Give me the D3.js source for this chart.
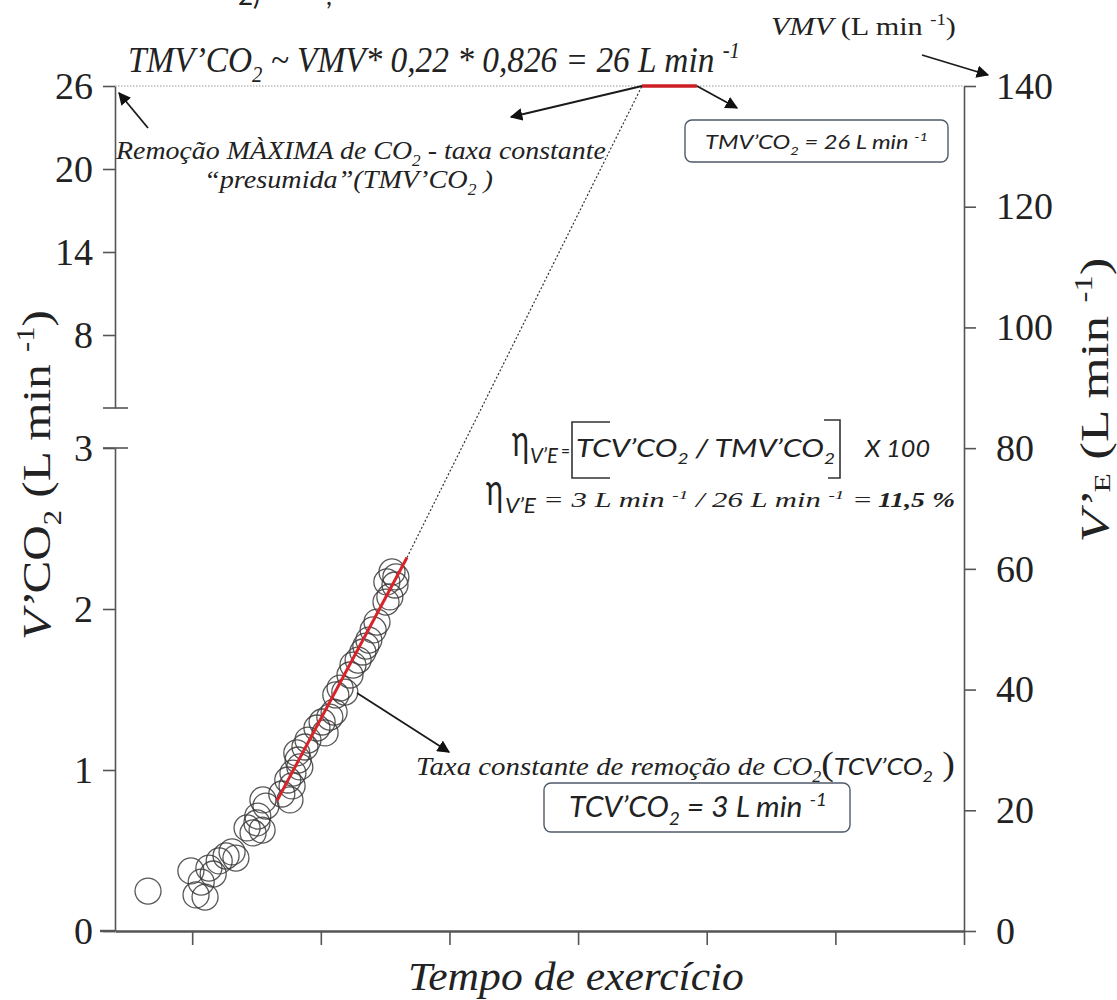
<!DOCTYPE html>
<html>
<head>
<meta charset="utf-8">
<script src="https://cdn.jsdelivr.net/npm/d3@7"></script>
<style>
  html, body { margin: 0; padding: 0; background: #fff; }
  svg { display: block; }
</style>
</head>
<body>
<svg id="chart" width="1117" height="1000"></svg>
<script>
// ---- data ----
// exercise time (arbitrary units along the time axis) and V'CO2 (L/min)
const timeVals = [0.97, 1.97, 2.09, 2.30, 2.21, 2.39, 2.49, 2.63, 2.79, 2.93,
                  3.02, 3.28, 3.42, 3.51, 3.63, 3.53, 3.72, 3.65, 4.09, 4.28,
                  4.33, 4.23, 4.35, 4.47, 4.51, 4.44, 4.63, 4.70, 4.91, 5.03,
                  5.10, 5.21, 5.31, 5.45, 5.56, 5.35, 5.68, 5.75, 5.87, 5.98,
                  6.05, 6.12, 6.22, 6.31, 6.52, 6.61, 6.54, 6.66, 6.75, 6.73];
const vco2Vals = [0.248, 0.373, 0.224, 0.211, 0.304, 0.391, 0.354, 0.435, 0.466, 0.491,
                  0.453, 0.640, 0.609, 0.671, 0.627, 0.714, 0.776, 0.814, 0.851, 0.814,
                  0.901, 0.938, 0.981, 1.062, 1.019, 1.106, 1.143, 1.186, 1.261, 1.298,
                  1.230, 1.329, 1.360, 1.509, 1.484, 1.466, 1.590, 1.652, 1.683, 1.733,
                  1.770, 1.807, 1.870, 1.919, 2.043, 2.075, 2.168, 2.230, 2.199, 2.149];
// linear fit over the constant-rate phase
const fitTime = [3.98, 7.01];
const fitVco2 = [0.81, 2.32];
// maximal (presumed) CO2 removal plateau
const tmvTime = [12.49, 13.77];
const tmvValue = 26;

const xTicks = [2, 5, 8, 11, 14, 17, 20];
const leftLowTicks = [0, 1, 2, 3];
const leftHighTicks = [8, 14, 20, 26];
const rightTicks = [0, 20, 40, 60, 80, 100, 120, 140];

// ---- setup ----
const svg = d3.select("#chart");
const SERIF = "'Liberation Serif', 'Times New Roman', serif";
const SANS = "Lato, 'Open Sans', 'Liberation Sans', sans-serif";
const INK = "#222";
const AXIS = "#555";

const x = d3.scaleLinear([0.2, 20], [115, 964]);
const yLow = d3.scaleLinear([0, 3], [931, 448]);
const yHigh = d3.scaleLinear([8, 26], [335, 86]);
const yR = d3.scaleLinear([0, 140], [931, 86]);
const breakY = 408;
const yV = v => (v <= 3 ? yLow(v) : yHigh(v));

// arrowhead marker
svg.append("defs").append("marker")
  .attr("id", "head")
  .attr("viewBox", "0 0 10 10")
  .attr("refX", 9).attr("refY", 5)
  .attr("markerWidth", 7).attr("markerHeight", 7)
  .attr("markerUnits", "strokeWidth")
  .attr("orient", "auto")
  .append("path").attr("d", "M0,0 L10,5 L0,10 Z").attr("fill", "#111");

// rich text: parts are {t, sub, sup, shift, it, b, fs, font}
function rich(parent, x0, y0, parts, opts) {
  const fs = opts.fs, font = opts.font || SERIF;
  const g = parent.append("g");
  const t = g.append("text")
    .attr("x", 0).attr("y", 0)
    .attr("font-family", font)
    .attr("font-size", fs)
    .attr("font-style", opts.it ? "italic" : "normal")
    .attr("fill", opts.fill || INK)
    .attr("text-anchor", "start");
  let shift = 0;
  parts.forEach(p => {
    const pf = p.fs || (p.sub || p.sup ? fs * 0.62 : fs);
    const s = p.shift !== undefined ? p.shift * fs : p.sub ? fs * 0.28 : p.sup ? -fs * 0.4 : 0;
    const ts = t.append("tspan")
      .attr("dy", s - shift)
      .attr("font-size", pf)
      .text(p.t);
    if (p.it !== undefined) ts.attr("font-style", p.it ? "italic" : "normal");
    if (p.b) ts.attr("font-weight", "bold");
    if (p.font) ts.attr("font-family", p.font);
    shift = s;
  });
  const w = t.node().getComputedTextLength();
  const sx = opts.width ? opts.width / w : 1;
  const rot = opts.rotate ? ` rotate(${opts.rotate})` : "";
  const dx = opts.anchor === "middle" ? -w * sx / 2 : 0;
  g.attr("transform", `translate(${x0},${y0})${rot} translate(${dx},0) scale(${sx},1)`);
  return g;
}

// ---- axes ----
const axisStyle = g => {
  g.selectAll(".domain").attr("stroke", AXIS).attr("stroke-width", 1.6);
  g.selectAll(".tick line").attr("stroke", AXIS).attr("stroke-width", 1.6);
  g.selectAll(".tick text").attr("font-family", SERIF).attr("font-size", 38).attr("fill", INK);
};

// left, lower segment (0–3)
svg.append("g").attr("transform", "translate(115,0)")
  .call(d3.axisLeft(yLow).tickValues(leftLowTicks).tickSize(12).tickSizeOuter(0).tickPadding(10).tickFormat(d3.format("d")))
  .call(axisStyle);
// left, upper segment (8–26), above the break
const yHighAxis = yHigh.copy().domain([yHigh.invert(breakY), 26]).range([breakY, 86]);
svg.append("g").attr("transform", "translate(115,0)")
  .call(d3.axisLeft(yHighAxis).tickValues(leftHighTicks).tickSize(12).tickSizeOuter(0).tickPadding(10).tickFormat(d3.format("d")))
  .call(axisStyle);
// break marks
[breakY, yLow(3)].forEach(yy => {
  svg.append("line").attr("x1", 103).attr("x2", 128).attr("y1", yy).attr("y2", yy)
    .attr("stroke", AXIS).attr("stroke-width", 1.6);
});
// right axis (V'E)
svg.append("g").attr("transform", "translate(964,0)")
  .call(d3.axisRight(yR).tickValues(rightTicks).tickSize(12).tickSizeOuter(0).tickPadding(20).tickFormat(d3.format("d")))
  .call(axisStyle);
// bottom axis (time, no labels)
svg.append("g").attr("transform", "translate(0,931)")
  .call(d3.axisBottom(x).tickValues(xTicks).tickSize(14).tickSizeOuter(0).tickFormat(""))
  .call(axisStyle)
  .call(g => g.select(".domain").attr("stroke-width", 2.4));
svg.append("line").attr("x1", 100).attr("x2", x(0.2)).attr("y1", 931).attr("y2", 931)
  .attr("stroke", AXIS).attr("stroke-width", 2.4);

// ---- reference lines ----
// plateau level
svg.append("line")
  .attr("x1", x(0.2)).attr("x2", x(20)).attr("y1", yHigh(tmvValue)).attr("y2", yHigh(tmvValue))
  .attr("stroke", "#9a9a9a").attr("stroke-width", 1.2).attr("stroke-dasharray", "1.5,1.5");
// extrapolation of the fit to the plateau
svg.append("line")
  .attr("x1", x(fitTime[1])).attr("y1", yV(fitVco2[1]))
  .attr("x2", x(tmvTime[0])).attr("y2", yHigh(tmvValue))
  .attr("stroke", "#333").attr("stroke-width", 1.2).attr("stroke-dasharray", "2,2");

// ---- scatter ----
svg.append("g").selectAll("circle")
  .data(d3.range(timeVals.length))
  .join("circle")
  .attr("cx", i => x(timeVals[i]))
  .attr("cy", i => yV(vco2Vals[i]))
  .attr("r", 13)
  .attr("fill", "none")
  .attr("stroke", "#3a3a3a")
  .attr("stroke-opacity", 0.85)
  .attr("stroke-width", 1.3);

// fit line
svg.append("line")
  .attr("x1", x(fitTime[0])).attr("y1", yV(fitVco2[0]))
  .attr("x2", x(fitTime[1])).attr("y2", yV(fitVco2[1]))
  .attr("stroke", "#d9232b").attr("stroke-width", 3);
// plateau segment
svg.append("line")
  .attr("x1", x(tmvTime[0])).attr("x2", x(tmvTime[1]))
  .attr("y1", yHigh(tmvValue)).attr("y2", yHigh(tmvValue))
  .attr("stroke", "#cc1f24").attr("stroke-width", 3.5);

// ---- arrows ----
const arrow = (x1, y1, x2, y2) => svg.append("line")
  .attr("x1", x1).attr("y1", y1).attr("x2", x2).attr("y2", y2)
  .attr("stroke", "#1a1a1a").attr("stroke-width", 1.8)
  .attr("marker-end", "url(#head)");
arrow(148, 128, 119, 93);
arrow(x(tmvTime[0]), yHigh(tmvValue), 511, 117);
arrow(x(tmvTime[1]), yHigh(tmvValue), 737, 108);
arrow(922, 55, 988, 75);
arrow(357, 693, 449, 752);

// ---- text ----
// tail of the preceding line of the page
svg.append("text").attr("x", 238).attr("y", 5).attr("font-family", SANS).attr("font-size", 26).attr("fill", INK).text("2)");
svg.append("text").attr("x", 326).attr("y", 5).attr("font-family", SANS).attr("font-size", 26).attr("fill", INK).text(",");

rich(svg, 128, 72, [
  { t: "TMV’CO" }, { t: "2", sub: true }, { t: " ~ VMV* 0,22 * 0,826 = 26 L min " }, { t: "-1", sup: true }
], { fs: 36, it: true, width: 612 });

rich(svg, 771, 35, [
  { t: "VMV", it: true }, { t: "  (L min " }, { t: "-1", sup: true }, { t: ")" }
], { fs: 26, width: 185 });

rich(svg, 116, 159, [
  { t: "Remoção MÀXIMA de CO" }, { t: "2", sub: true }, { t: " - taxa constante" }
], { fs: 26, it: true, width: 490 });
rich(svg, 204, 188, [
  { t: "“presumida”(TMV’CO" }, { t: "2", sub: true }, { t: " )" }
], { fs: 26, it: true, width: 289 });

// boxes
const box = (x0, y0, w, h) => svg.append("rect")
  .attr("x", x0).attr("y", y0).attr("width", w).attr("height", h)
  .attr("rx", 7).attr("fill", "#fff").attr("stroke", "#4d5a6a").attr("stroke-width", 1.4);
box(685, 120, 263, 42);
rich(svg, 705, 149, [
  { t: "TMV’CO" }, { t: "2", sub: true }, { t: " = 26 L min " }, { t: "-1", sup: true }
], { fs: 20, it: true, font: SANS, width: 223 });

box(544, 783, 306, 49);
rich(svg, 569, 817, [
  { t: "TCV’CO" }, { t: "2", sub: true }, { t: " = 3 L min " }, { t: "-1", sup: true }
], { fs: 28, it: true, font: SANS, width: 258 });

rich(svg, 416, 775, [
  { t: "Taxa constante de remoção de CO" }, { t: "2", sub: true },
  { t: "(", it: false, fs: 34 }, { t: "TCV’CO", font: SANS, fs: 24 }, { t: "2", sub: true, font: SANS },
  { t: " )", it: false, fs: 34 }
], { fs: 26, it: true, width: 539 });

// efficiency formula
rich(svg, 512, 456, [{ t: "η" }], { fs: 44, font: SANS, width: 17 });
rich(svg, 530, 463, [{ t: "V’E" }], { fs: 22, it: true, font: SANS, width: 28 });
rich(svg, 561, 458, [{ t: "=" }], { fs: 20, font: SANS, width: 9 });
svg.append("path").attr("d", "M610,422 H572 V478 H610")
  .attr("fill", "none").attr("stroke", "#333").attr("stroke-width", 1.6);
svg.append("path").attr("d", "M824,420 H840 V478 H828")
  .attr("fill", "none").attr("stroke", "#333").attr("stroke-width", 1.6);
rich(svg, 576, 457, [
  { t: "TCV’CO" }, { t: "2", sub: true }, { t: " / TMV’CO" }, { t: "2", sub: true }
], { fs: 26, it: true, font: SANS, width: 259 });
rich(svg, 865, 457, [{ t: "X 100" }], { fs: 24, it: true, font: SANS, width: 65 });

rich(svg, 486, 505, [{ t: "η" }], { fs: 44, font: SANS, width: 17 });
rich(svg, 505, 513, [{ t: "V’E" }], { fs: 22, it: true, font: SANS, width: 31 });
rich(svg, 543, 507, [
  { t: "= 3 L min " }, { t: "-1", sup: true }, { t: "  /  26 L min " }, { t: "-1", sup: true }, { t: "  =" }
], { fs: 20, it: true, width: 330 });
rich(svg, 878, 507, [{ t: "11,5 %", b: true }], { fs: 22, it: true, width: 77 });

// axis titles
rich(svg, 408, 990, [{ t: "Tempo de exercício" }], { fs: 40, it: true, width: 336 });
rich(svg, 50, 475, [
  { t: "V’", it: true }, { t: "CO" }, { t: "2", sub: true }, { t: " (L min " }, { t: "-1", sup: true }, { t: ")" }
], { fs: 40, rotate: -90, anchor: "middle", width: 330 });
rich(svg, 1108, 400, [
  { t: "V’", it: true }, { t: "E", shift: 0.06, fs: 24 }, { t: " (L min ", shift: 0 }, { t: "-1", sup: true }, { t: ")" }
], { fs: 40, rotate: -90, anchor: "middle", width: 285 });
</script>
</body>
</html>
